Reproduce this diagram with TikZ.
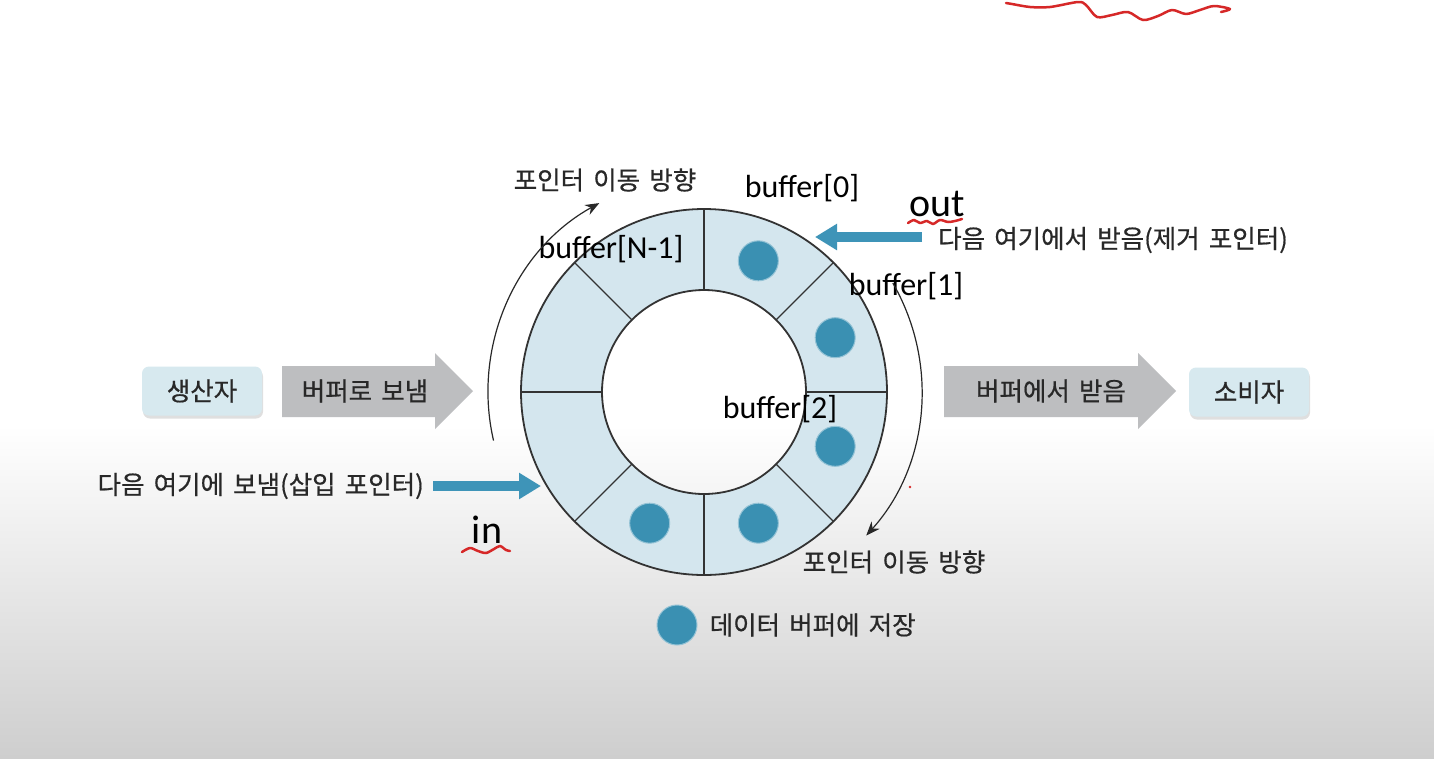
\documentclass[tikz,border=0pt]{standalone}
\usepackage{fontspec}
\setmainfont{Carlito}
\newfontfamily\kr{Noto Sans CJK KR}[WordSpace=1.6, RawFeature={embolden=0.6}]
\usetikzlibrary{arrows.meta,shadows,calc,positioning}
\definecolor{ringblue}{RGB}{212,230,238}
\definecolor{dotblue}{RGB}{58,144,178}
\definecolor{ptrblue}{RGB}{62,148,184}
\definecolor{flowgray}{RGB}{189,190,192}
\definecolor{boxblue}{RGB}{215,233,239}
\definecolor{krgray}{RGB}{40,40,40}
\definecolor{inkred}{RGB}{214,40,40}
\definecolor{bggray}{RGB}{206,206,206}

\tikzset{
  buflbl/.style={font=\fontsize{32}{38}\selectfont, inner sep=0pt},
  ptrlbl/.style={font=\fontsize{40}{44}\selectfont, inner sep=0pt},
  krlbl/.style={font=\kr\fontsize{25.5}{30}\selectfont, text=krgray, inner sep=0pt},
  rolebox/.style={krlbl, fill=boxblue, rounded corners=7pt, minimum width=120pt,
    minimum height=49pt, drop shadow={shadow xshift=1pt, shadow yshift=-3pt, opacity=0.25}},
  datadot/.style={circle, fill=dotblue, draw=dotblue!55, line width=1pt,
    minimum size=40pt, inner sep=0pt},
  ptrarrow/.style={ptrblue, line width=10pt, -{Triangle[length=22pt,width=25pt]}},
  movearc/.style={krgray, line width=1.2pt, -{Stealth[length=14pt,width=11pt]}},
  squiggle/.style={inkred, line width=2.5pt, line cap=round, line join=round},
}

\begin{document}
\begin{tikzpicture}[x=1pt, y=-1pt]

% ---- background ----
\useasboundingbox (0,0) rectangle (1434,758);
\fill[white] (0,0) rectangle (1434,758);
\shade[top color=white, bottom color=bggray] (0,425) rectangle (1434,758);

% ---- ring buffer ----
\coordinate (ctr) at (704,392);
\fill[ringblue, even odd rule] (ctr) circle[radius=183] (ctr) circle[radius=102];
\draw[black!80, line width=1.8pt] (ctr) circle[radius=183] (ctr) circle[radius=102];
\foreach \a in {0,45,...,315}
  \draw[black!80, line width=1.2pt] ($(ctr)+(\a:102)$) -- ($(ctr)+(\a:183)$);

% filled slots
\foreach \a/\nm in {-67.5/slotA, -22.5/slotB, 22.5/slotC, 67.5/slotD, 112.5/slotE}
  \node[datadot] (\nm) at ($(ctr)+(\a:142)$) {};

% ---- slot labels ----
\node[buflbl] (bufzero) at (802,188) {buffer[0]};
\node[buflbl] (buflast) at (611,249) {buffer[N-1]};
\node[buflbl] (bufone)  at (906,286) {buffer[1]};
\node[buflbl] (buftwo)  at (780,409) {buffer[2]};

% ---- pointer movement ----
\draw[movearc] ($(ctr)+(-193:216)$) arc[start angle=-193, end angle=-119, radius=216];
\draw[movearc] ($(ctr)+(-30:218)$) arc[start angle=-30, end angle=42, radius=216];
\node[krlbl] (dirtop) at (605,180) {포인터 이동 방향};
\node[krlbl] (dirbot) at (894,562) {포인터 이동 방향};

% ---- producer side ----
\node[rolebox] (producer) at (202,391) {생산자};
\fill[flowgray] (282,366) -- (435,366) -- (435,353) -- (473,391)
  -- (435,429) -- (435,417) -- (282,417) -- cycle;
\node[krlbl] (sendlbl) at (365,391) {버퍼로 보냄};

% ---- consumer side ----
\fill[flowgray] (944,366) -- (1138,366) -- (1138,353) -- (1176,391)
  -- (1138,429) -- (1138,417) -- (944,417) -- cycle;
\node[krlbl] (recvlbl) at (1051,391) {버퍼에서 받음};
\node[rolebox] (consumer) at (1249,392) {소비자};

% ---- in / out pointers ----
\node[krlbl, anchor=east] (intxt) at (424,486) {다음 여기에 보냄(삽입 포인터)};
\coordinate (inhead) at (541,486);
\draw[ptrarrow] ([xshift=9pt]intxt.east) -- (inhead);
\node[ptrlbl] (inlbl) at (487,530) {in};

\node[krlbl, anchor=west] (outtxt) at (938,240) {다음 여기에서 받음(제거 포인터)};
\coordinate (outhead) at (815,237);
\draw[ptrarrow] ([shift={(-16,-3)}]outtxt.west) -- (outhead);
\node[ptrlbl] (outlbl) at (937,204) {out};

% ---- legend ----
\node[datadot] (legdot) at (677,625) {};
\node[krlbl, right=12pt of legdot] (legtxt) {데이터 버퍼에 저장};

% ---- red pen marks ----
\draw[squiggle] plot[smooth] coordinates {(908,223) (914,220) (920,223) (927,221)
  (933,224) (940,220) (948,222) (955,221) (962,219)};
\draw[squiggle] plot[smooth] coordinates {(462,552) (470,548) (478,551) (486,553)
  (494,549) (500,546) (506,550) (510,551)};
\draw[squiggle] plot[smooth] coordinates {(1006,3) (1012,4) (1030,7) (1050,7)
  (1078,2) (1086,5) (1097,17) (1112,15) (1128,12) (1143,20) (1158,16) (1172,10)
  (1186,14) (1200,10) (1214,6) (1230,9) (1221,12)};
\fill[inkred] (910,487) circle[radius=1.3];

\end{tikzpicture}
\end{document}
